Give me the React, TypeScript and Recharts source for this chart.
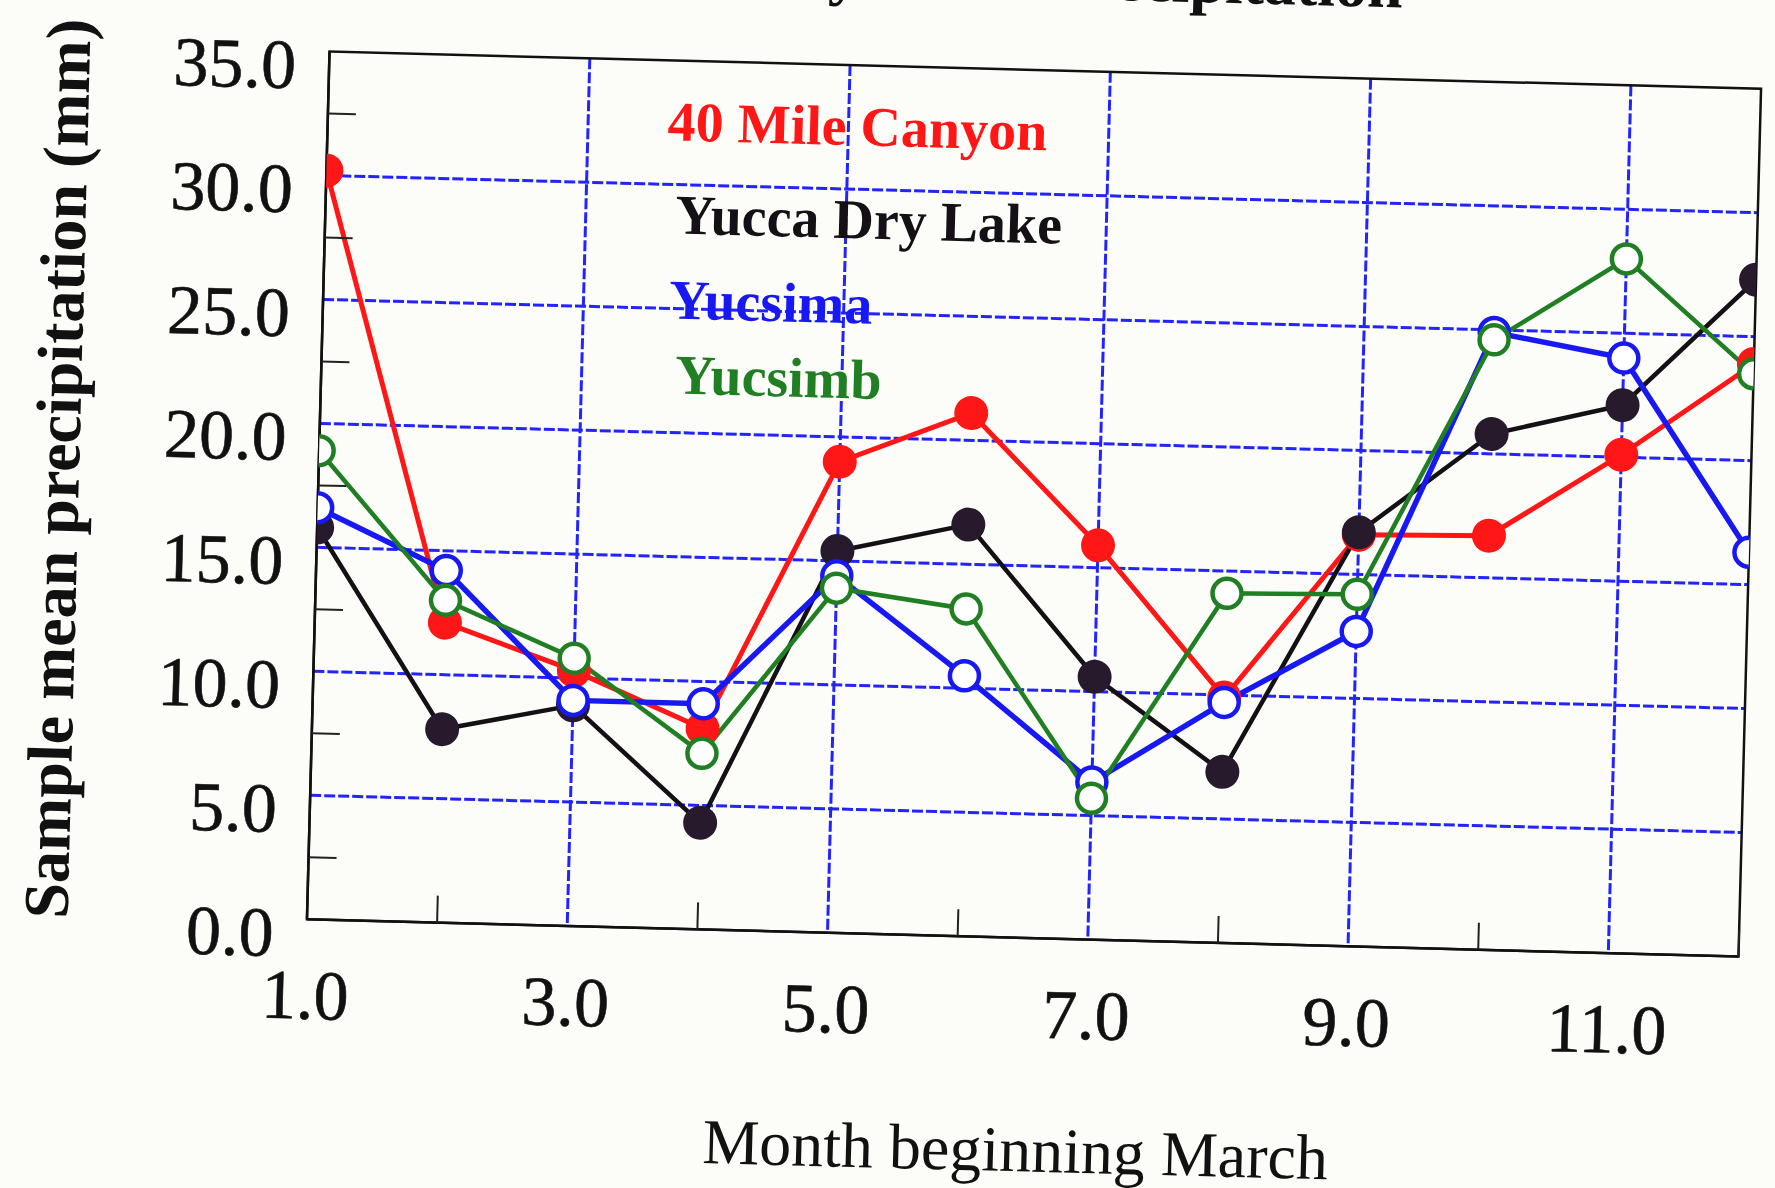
import React from 'react';
import { LineChart, Line, XAxis, YAxis, CartesianGrid, ReferenceArea, Customized } from 'recharts';

// ---- data ----
const months = [1, 2, 3, 4, 5, 6, 7, 8, 9, 10, 11, 12];
const mileCanyon = [30.2, 12.1, 10.3, 8.1, 19.0, 21.1, 15.9, 9.9, 16.6, 16.7, 20.1, 23.9];
const yuccaDryLake = [15.8, 7.8, 8.9, 4.3, 15.4, 16.6, 10.6, 6.9, 16.7, 20.8, 22.1, 27.3];
const yucsima = [16.6, 14.2, 9.1, 9.1, 14.4, 10.5, 6.35, 9.7, 12.7, 24.9, 24.0, 16.3];
const yucsimb = [18.9, 13.0, 10.8, 7.1, 13.9, 13.2, 5.7, 14.1, 14.2, 24.6, 28.0, 23.5];
const seriesNames = ['40 Mile Canyon', 'Yucca Dry Lake', 'Yucsima', 'Yucsimb'];
const yTicks = [0, 2.5, 5, 7.5, 10, 12.5, 15, 17.5, 20, 22.5, 25, 27.5, 30, 32.5, 35];
const xTicks = [1, 2, 3, 4, 5, 6, 7, 8, 9, 10, 11, 12];
const yGridValues = [5, 10, 15, 20, 25, 30];
const xGridValues = [3, 5, 7, 9, 11];
const chartTitle = 'Monthly Mean Precipitation';
const xTitle = 'Month beginning March';
const yTitle = 'Sample mean precipitation (mm)';

const data = months.map((m, i) => ({
  month: m,
  a: mileCanyon[i],
  b: yuccaDryLake[i],
  c: yucsima[i],
  d: yucsimb[i],
}));

// ---- styles ----
const SERIF = '"Liberation Serif", "Times New Roman", Times, serif';
const RED = '#ff1616';
const BLACK = '#141016';
const DOT_BLACK = '#261a2c';
const BLUE = '#1818f2';
const GREEN = '#1f7f22';
const GRID = '#2323ff';

const W = 1775;
const H = 1188;

const YTick = (props: any) => {
  const { x, y, payload } = props;
  const v = payload.value as number;
  if (v % 5 === 0) {
    return (
      <text x={x - 33} y={y + 14} textAnchor="end" dominantBaseline="central"
        fontFamily={SERIF} fontSize={70} fill="#111" stroke="#111" strokeWidth={0.6}>
        {v.toFixed(1)}
      </text>
    );
  }
  return <line x1={x} x2={x + 28} y1={y} y2={y} stroke="#222" strokeWidth={2} />;
};

const XTick = (props: any) => {
  const { x, y, payload } = props;
  const v = payload.value as number;
  if (v % 2 === 1) {
    return (
      <text x={x} y={y + 76} textAnchor="middle" dominantBaseline="central"
        fontFamily={SERIF} fontSize={70} fill="#111" stroke="#111" strokeWidth={0.6}>
        {v.toFixed(1)}
      </text>
    );
  }
  return <line x1={x} x2={x} y1={y} y2={y - 27} stroke="#222" strokeWidth={2} />;
};

const legendStyle = [
  { x: 658, y: 150, color: RED },
  { x: 668, y: 243, color: BLACK },
  { x: 664, y: 328, color: BLUE },
  { x: 672, y: 403, color: GREEN },
];

const Labels = () => (
  <g>
    {seriesNames.map((name, i) => (
      <text key={name} x={legendStyle[i].x} y={legendStyle[i].y} fill={legendStyle[i].color}
        fontFamily={SERIF} fontWeight="bold" fontSize={56}>
        {name}
      </text>
    ))}
    <text x={1032} y={1150} textAnchor="middle" dominantBaseline="central"
      fontFamily={SERIF} fontSize={64} fill="#111">
      {xTitle}
    </text>
    <text x={57} y={494} textAnchor="middle" dominantBaseline="central"
      transform="rotate(-90, 57, 494)"
      fontFamily={SERIF} fontWeight="bold" fontSize={64} fill="#111">
      {yTitle}
    </text>
  </g>
);

export default function App() {
  return (
    <div style={{ position: 'absolute', left: 0, top: 0, width: W, height: H, background: '#fcfdf8', overflow: 'hidden' }}>
      <div style={{ position: 'absolute', left: 0, top: 0, width: W, height: H, transform: 'rotate(1.49deg)', transformOrigin: '1034px 504px' }}>
        <div style={{ position: 'absolute', left: 612, top: -55, fontFamily: SERIF, fontWeight: 'bold', fontSize: 64, lineHeight: '64px', whiteSpace: 'nowrap', color: '#111' }}>
          {chartTitle}
        </div>
        <LineChart width={W} height={H} data={data} margin={{ top: 70, right: 25, bottom: 150, left: 0 }}>
          <CartesianGrid horizontalValues={yGridValues} verticalValues={xGridValues}
            stroke={GRID} strokeWidth={3} strokeDasharray="11 3" />
          <XAxis dataKey="month" type="number" domain={[1, 12]} ticks={xTicks} interval={0}
            height={100} tickSize={0} tickMargin={0} tick={<XTick />}
            axisLine={{ stroke: '#111', strokeWidth: 2.5 }} tickLine={false} allowDataOverflow />
          <YAxis type="number" domain={[0, 35]} ticks={yTicks} interval={0}
            width={318} tickSize={0} tickMargin={0} tick={<YTick />}
            axisLine={{ stroke: '#111', strokeWidth: 2.5 }} tickLine={false} allowDataOverflow />
          <ReferenceArea x1={1} x2={12} y1={0} y2={35} fill="none" fillOpacity={0}
            stroke="#111" strokeWidth={2.5} />
          <Line dataKey="a" name={seriesNames[0]} stroke={RED} strokeWidth={5} isAnimationActive={false}
            dot={{ r: 17, fill: RED, stroke: RED, strokeWidth: 0 }} activeDot={false} />
          <Line dataKey="b" name={seriesNames[1]} stroke={BLACK} strokeWidth={4.5} isAnimationActive={false}
            dot={{ r: 17, fill: DOT_BLACK, stroke: DOT_BLACK, strokeWidth: 0 }} activeDot={false} />
          <Line dataKey="c" name={seriesNames[2]} stroke={BLUE} strokeWidth={5.5} isAnimationActive={false}
            dot={{ r: 14.5, fill: '#ffffff', stroke: BLUE, strokeWidth: 4.5 }} activeDot={false} />
          <Line dataKey="d" name={seriesNames[3]} stroke={GREEN} strokeWidth={4.5} isAnimationActive={false}
            dot={{ r: 14.5, fill: '#ffffff', stroke: GREEN, strokeWidth: 4.5 }} activeDot={false} />
          <Customized component={Labels} />
        </LineChart>
      </div>
    </div>
  );
}
